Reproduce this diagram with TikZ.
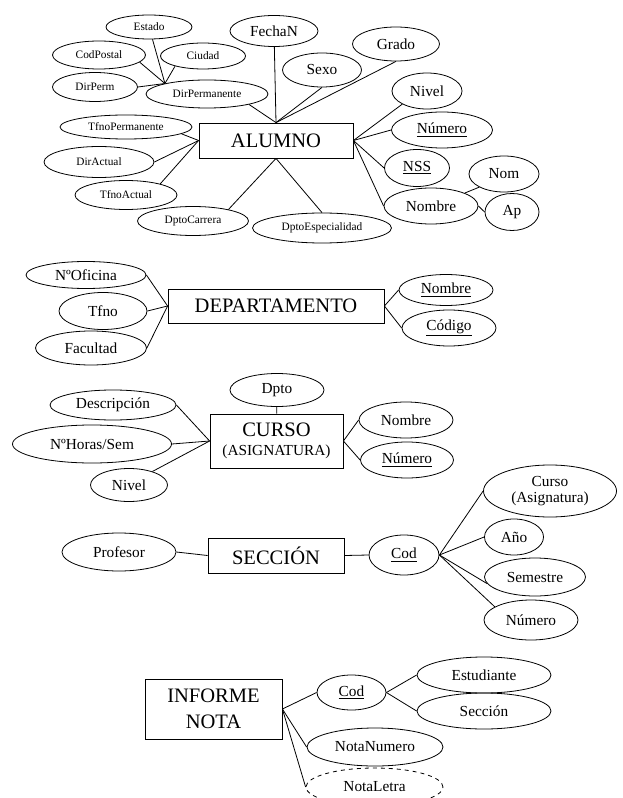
\documentclass[tikz,border=0pt]{standalone}
\usepackage{fontspec}
\setmainfont{Liberation Serif}
\usetikzlibrary{shapes.geometric}
\newcommand\bigtxt{\fontsize{15.4}{19.5}\selectfont}
\newcommand\midtxt{\fontsize{11.5}{14}\selectfont}
\newcommand\smltxt{\fontsize{8.5}{10}\selectfont}
\tikzset{
	ent/.style={draw, rectangle, inner sep=0pt, align=center, font=\bigtxt},
	attr/.style={draw, ellipse, inner sep=0pt, align=center, font=\midtxt},
	sattr/.style={attr, font=\smltxt},
	sz/.style 2 args={minimum width=#1*0.75pt, minimum height=#2*0.75pt}
}
\begin{document}
\begin{tikzpicture}[x=0.75pt, y=-0.75pt, line width=0.6pt]
	\useasboundingbox (0,0) rectangle (622,798);
	
	\node[ent, sz={154}{35}] (alumno) at (276,140.5) {ALUMNO};
	\node[sattr, sz={86}{24}] (estado) at (149,27) {Estado};
	\node[sattr, sz={93}{28}] (codpostal) at (99,55) {CodPostal};
	\node[sattr, sz={85}{26}] (ciudad) at (203,56) {Ciudad};
	\node[sattr, sz={85}{29}] (dirperm) at (95,87) {DirPerm};
	\node[sattr, sz={122}{28}] (dirpermanente) at (207,94) {DirPermanente};
	\node[attr, sz={88}{31}] (fechan) at (274,31) {FechaN};
	\node[attr, sz={79}{34}] (sexo) at (322,70) {Sexo};
	\node[attr, sz={87}{34}] (grado) at (396,44) {Grado};
	\node[attr, sz={70}{36}] (nivel) at (427,91) {Nivel};
	\node[attr, sz={101}{36}] (numero) at (442,130) {\underline{Número}};
	\node[attr, sz={65}{37}] (nss) at (417,168) {\underline{NSS}};
	\node[attr, sz={94}{36}] (nombre) at (431,206) {Nombre};
	\node[attr, sz={70}{36}] (nom) at (504,174) {Nom};
	\node[attr, sz={54}{37}] (ap) at (512,212) {Ap};
	\node[sattr, sz={132}{24}] (tfnoperm) at (126,127) {TfnoPermanente};
	\node[sattr, sz={110}{31}] (diractual) at (99,162) {DirActual};
	\node[sattr, sz={102}{29}] (tfnoactual) at (126,195) {TfnoActual};
	\node[sattr, sz={111}{29}] (dptocarrera) at (193,221) {DptoCarrera};
	\node[sattr, sz={139}{30}] (dptoesp) at (322,228) {DptoEspecialidad};
	
	\foreach \a in {estado, codpostal.-10, ciudad.200, dirperm.east}{
		\draw (\a) -- (dirpermanente.166);
	};
	\foreach \a in {dirpermanente.-14, fechan, sexo.south, grado.south}{
		\draw (alumno.north) -- (\a);
	};
	\foreach \a in {nivel.208, numero.west, nss.west, nombre.west}{
		\draw (alumno.east) -- (\a);
	};
	\draw (nombre.21) -- (nom.208);
	\draw (nombre.east) -- (ap.west);
	\foreach \a in {tfnoperm.-7, diractual.east, tfnoactual.18}{
		\draw (alumno.west) -- (\a);
	};
	\draw (alumno.south) -- (dptocarrera.18);
	\draw (alumno.south) -- (dptoesp.north);
	
	\node[ent, sz={216}{34}] (depto) at (276,306) {DEPARTAMENTO};
	\node[attr, sz={120}{27}] (oficina) at (86,275) {NºOficina};
	\node[attr, sz={88}{37}] (tfno) at (103,311) {Tfno};
	\node[attr, sz={111}{34}] (facultad) at (91,348) {Facultad};
	\node[attr, sz={94}{31}] (dnombre) at (446,290) {\underline{Nombre}};
	\node[attr, sz={94}{36}] (dcodigo) at (449,328) {\underline{Código}};
	\foreach \a in {oficina, tfno, facultad}{
		\draw (depto.west) -- (\a.east);
	};
	\draw (depto.east) -- (dnombre.west);
	\draw (depto.east) -- (dcodigo.west);
	
	\node[ent, sz={133}{54}] (curso) at (276.5,441) {CURSO\\[-5.3pt]\midtxt(ASIGNATURA)};
	\node[attr, sz={94}{33}] (dpto) at (277,390) {Dpto};
	\node[attr, sz={126}{30}] (descr) at (113,405) {Descripción};
	\node[attr, sz={159}{38}] (horas) at (92,444) {NºHoras/Sem};
	\node[attr, sz={77}{33}] (cnivel) at (129,485) {Nivel};
	\node[attr, sz={94}{36}] (cnombre) at (406,420) {Nombre};
	\node[attr, sz={93}{36}] (cnumero) at (407,460) {\underline{Número}};
	\draw (dpto) -- (curso);
	\foreach \a in {descr.east, horas.east, cnivel.30}{
		\draw (curso.west) -- (\a);
	};
	\draw (curso.east) -- (cnombre.west);
	\draw (curso.east) -- (cnumero.west);
	
	\node[ent, sz={136}{35}] (seccion) at (276,555.5) {SECCIÓN};
	\node[attr, sz={114}{38}] (profesor) at (119,552) {Profesor};
	\node[attr, sz={70}{40}] (scod) at (404,555) {\underline{Cod}};
	\node[attr, sz={133}{52}] (scurso) at (550,491) {Curso\\[-2.5pt](Asignatura)};
	\node[attr, sz={59}{36}] (sano) at (514,537) {Año};
	\node[attr, sz={101}{38}] (ssem) at (535,577) {Semestre};
	\node[attr, sz={94}{40}] (snum) at (531,620) {Número};
	\draw (profesor.east) -- (seccion.west);
	\draw (seccion.east) -- (scod.west);
	\foreach \a in {scurso.west, sano.west, ssem.188, snum.160}{
		\draw (scod.east) -- (\a);
	};
	
	\node[ent, sz={137}{60}] (informe) at (213.5,709) {INFORME\\NOTA};
	\node[attr, sz={69}{35}] (icod) at (351.5,692.5) {\underline{Cod}};
	\node[attr, sz={134}{36}] (estud) at (484,675) {Estudiante};
	\node[attr, sz={134}{36}] (iseccion) at (484,711) {Sección};
	\node[attr, sz={136}{38}] (notanum) at (375,747) {NotaNumero};
	\node[attr, dashed, sz={137}{38}] (notaletra) at (374.5,787) {NotaLetra};
	\foreach \a in {icod, notanum, notaletra}{
		\draw (informe.east) -- (\a.west);
	};
	\draw (icod.east) -- (estud.west);
	\draw (icod.east) -- (iseccion.west);
	
\end{tikzpicture}
\end{document}
